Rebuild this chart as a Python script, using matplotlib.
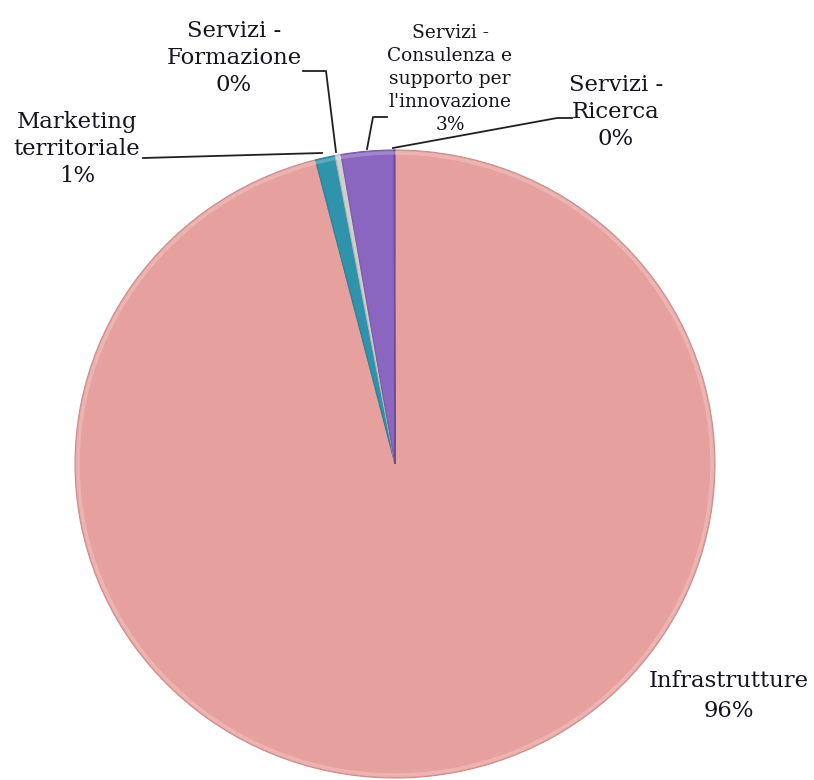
import matplotlib.pyplot as plt
from matplotlib.patches import Arc
import numpy as np

# quote per tipologia di intervento (%)
categorie = ["Infrastrutture", "Marketing\nterritoriale", "Servizi -\nFormazione",
             "Servizi -\nConsulenza e\nsupporto per\nl'innovazione", "Servizi -\nRicerca"]
valori = [96.0, 1.0, 0.3, 2.65, 0.05]
colori = ["#E6A19F", "#2F93AC", "#CFCFCF", "#8A66C0", "#7A58AE"]

W, H = 814, 780
k = 320 / 314  # leggero schiacciamento verticale della torta


def P(px, py):
    # da pixel (origine in alto a sinistra) a coordinate dati
    return px, (H - py) * k


def scurisci(c, f=0.8):
    r, g, b = plt.matplotlib.colors.to_rgb(c)
    return (r * f, g * f, b * f)


def schiarisci(c, f=0.35):
    r, g, b = plt.matplotlib.colors.to_rgb(c)
    return (r + (1 - r) * f, g + (1 - g) * f, b + (1 - b) * f)


fig = plt.figure(figsize=(W / 100, H / 100), dpi=100)
ax = fig.add_axes([0, 0, 1, 1])

centro = P(395, 464)
R = 320
wedges, _ = ax.pie(valori, colors=colori, startangle=90, counterclock=False,
                   center=centro, radius=R, frame=True,
                   wedgeprops=dict(linewidth=0.8))
for w, c in zip(wedges, colori):
    w.set_edgecolor(scurisci(c, 0.88))
    # bordo esterno chiaro (effetto smussato)
    ax.add_patch(Arc(centro, 2 * (R - 3), 2 * (R - 3), theta1=w.theta1, theta2=w.theta2,
                     color=schiarisci(c, 0.3), lw=2.5, alpha=0.7))
ax.set_xlim(0, W)
ax.set_ylim(0, H * k)
ax.set_aspect("auto")
ax.axis("off")

tot = sum(valori)
perc = [f"{round(v / tot * 100)}%" for v in valori]

# posizione etichette (pixel), dimensione font, interlinea
etichette = [
    ((729, 696), 16.4, 1.5),
    ((77, 149), 16.4, 1.3),
    ((234, 58), 16.4, 1.3),
    ((450, 79), 13.4, 1.35),
    ((616, 112), 16.4, 1.3),
]
for cat, p, (pos, fs, ls) in zip(categorie, perc, etichette):
    x, y = P(*pos)
    ax.text(x, y, cat + "\n" + p, ha="center", va="center", fontsize=fs,
            family="DejaVu Serif", color="#14141f", linespacing=ls)

# linee di richiamo
richiami = [
    [(143, 158), (322, 153)],
    [(303, 71), (326, 71), (336, 152)],
    [(387, 117), (373, 117), (367, 149)],
    [(572, 118), (557, 118), (393, 148)],
]
for pts in richiami:
    xy = np.array([P(*p) for p in pts])
    ax.plot(xy[:, 0], xy[:, 1], color="#202020", lw=1.3)

fig.savefig("out.png", dpi=100, facecolor="white")
